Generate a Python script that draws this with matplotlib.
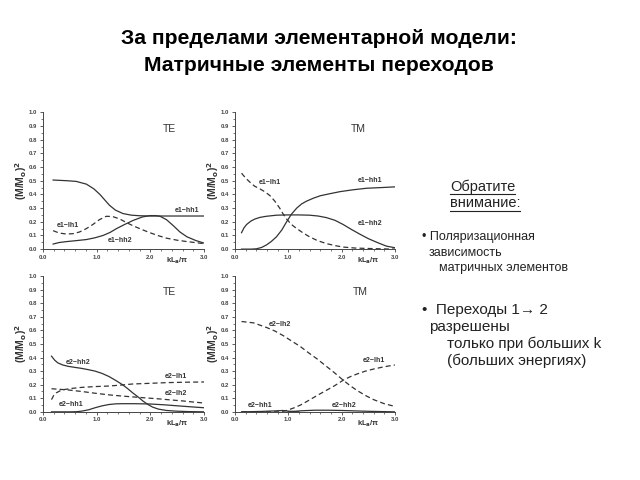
import matplotlib
matplotlib.use("Agg")
import matplotlib.pyplot as plt
from matplotlib.ticker import MultipleLocator, FormatStrFormatter

plt.rcParams['font.family'] = ['Liberation Sans', 'DejaVu Sans']

# --- data ---
# top-left, TE, e1 transitions
tl_hh1_x = [0.19, 0.45, 0.62, 0.81, 0.95, 1.06, 1.15, 1.24, 1.35, 1.49, 1.65, 1.8, 2.0, 2.5, 3.0]
tl_hh1_y = [0.505, 0.50, 0.495, 0.475, 0.44, 0.40, 0.36, 0.32, 0.285, 0.26, 0.248, 0.244, 0.242, 0.242, 0.242]
tl_hh2_x = [0.19, 0.3, 0.44, 0.62, 0.81, 0.97, 1.12, 1.25, 1.37, 1.52, 1.68, 1.85, 1.99, 2.1, 2.18, 2.3, 2.43, 2.55, 2.68, 2.85, 2.99]
tl_hh2_y = [0.037, 0.048, 0.055, 0.062, 0.07, 0.083, 0.10, 0.122, 0.15, 0.18, 0.21, 0.235, 0.245, 0.245, 0.24, 0.215, 0.17, 0.125, 0.09, 0.062, 0.045]
tl_lh1_x = [0.19, 0.3, 0.44, 0.56, 0.68, 0.8, 0.93, 1.05, 1.18, 1.3, 1.43, 1.55, 1.68, 1.85, 1.99, 2.15, 2.3, 2.5, 2.68, 2.85, 2.99]
tl_lh1_y = [0.135, 0.118, 0.11, 0.113, 0.125, 0.148, 0.18, 0.215, 0.24, 0.238, 0.22, 0.195, 0.17, 0.142, 0.12, 0.098, 0.08, 0.065, 0.055, 0.047, 0.04]

# top-right, TM, e1 transitions
tr_lh1_x = [0.125, 0.2, 0.28, 0.37, 0.47, 0.56, 0.66, 0.75, 0.84, 0.9, 0.97, 1.06, 1.16, 1.28, 1.4, 1.55, 1.72, 1.9, 2.03, 2.25, 2.47, 2.75, 3.0]
tr_lh1_y = [0.555, 0.52, 0.49, 0.46, 0.44, 0.42, 0.39, 0.35, 0.30, 0.26, 0.22, 0.18, 0.15, 0.118, 0.09, 0.062, 0.04, 0.024, 0.015, 0.008, 0.005, 0.002, 0.0]
tr_hh1_x = [0.125, 0.3, 0.4, 0.5, 0.59, 0.68, 0.78, 0.88, 0.97, 1.06, 1.16, 1.25, 1.34, 1.47, 1.6, 1.78, 1.97, 2.2, 2.47, 2.75, 3.0]
tr_hh1_y = [0.0, 0.0, 0.002, 0.012, 0.03, 0.055, 0.09, 0.14, 0.20, 0.255, 0.30, 0.33, 0.35, 0.372, 0.39, 0.405, 0.42, 0.433, 0.445, 0.45, 0.455]
tr_hh2_x = [0.125, 0.17, 0.22, 0.3, 0.375, 0.47, 0.59, 0.78, 0.97, 1.2, 1.4, 1.56, 1.72, 1.88, 2.03, 2.18, 2.34, 2.5, 2.66, 2.84, 3.0]
tr_hh2_y = [0.12, 0.155, 0.18, 0.205, 0.22, 0.232, 0.24, 0.248, 0.25, 0.25, 0.248, 0.242, 0.23, 0.21, 0.18, 0.145, 0.11, 0.077, 0.05, 0.022, 0.01]

# bottom-left, TE, e2 transitions
bl_hh2_x = [0.16, 0.22, 0.28, 0.37, 0.47, 0.6, 0.72, 0.85, 0.97, 1.1, 1.23, 1.36, 1.48, 1.58, 1.67, 1.77, 1.86, 1.95, 2.04, 2.15, 2.3, 2.48, 2.7, 3.0]
bl_hh2_y = [0.41, 0.38, 0.36, 0.345, 0.335, 0.327, 0.32, 0.31, 0.30, 0.283, 0.26, 0.23, 0.20, 0.17, 0.14, 0.11, 0.08, 0.055, 0.035, 0.02, 0.01, 0.005, 0.002, 0.0]
bl_hh1_x = [0.16, 0.5, 0.62, 0.72, 0.85, 0.97, 1.1, 1.23, 1.36, 1.48, 1.7, 1.98, 2.25, 2.48, 2.75, 3.0]
bl_hh1_y = [0.0, 0.0, 0.001, 0.005, 0.015, 0.03, 0.044, 0.054, 0.059, 0.06, 0.06, 0.058, 0.052, 0.045, 0.037, 0.03]
bl_lh1_x = [0.16, 0.2, 0.25, 0.32, 0.41, 0.55, 0.72, 0.97, 1.23, 1.45, 1.67, 2.0, 2.3, 2.65, 3.0]
bl_lh1_y = [0.09, 0.12, 0.14, 0.155, 0.165, 0.173, 0.18, 0.186, 0.19, 0.197, 0.205, 0.21, 0.215, 0.218, 0.22]
bl_lh2_x = [0.16, 0.45, 0.72, 0.97, 1.23, 1.45, 1.67, 1.9, 2.17, 2.4, 2.61, 2.8, 3.0]
bl_lh2_y = [0.17, 0.162, 0.15, 0.137, 0.125, 0.117, 0.11, 0.103, 0.095, 0.087, 0.08, 0.072, 0.065]

# bottom-right, TM, e2 transitions
br_lh2_x = [0.125, 0.35, 0.6, 0.75, 0.91, 1.07, 1.23, 1.38, 1.54, 1.7, 1.86, 2.04, 2.17, 2.3, 2.45, 2.6, 2.8, 3.0]
br_lh2_y = [0.665, 0.655, 0.62, 0.595, 0.56, 0.52, 0.48, 0.435, 0.39, 0.34, 0.29, 0.23, 0.19, 0.155, 0.12, 0.09, 0.06, 0.04]
br_lh1_x = [0.125, 0.85, 0.97, 1.1, 1.23, 1.38, 1.54, 1.7, 1.86, 2.04, 2.17, 2.3, 2.45, 2.6, 2.8, 3.0]
br_lh1_y = [0.0, 0.0, 0.01, 0.028, 0.05, 0.083, 0.12, 0.155, 0.19, 0.235, 0.26, 0.28, 0.3, 0.315, 0.332, 0.345]
br_hh1_x = [0.125, 0.5, 0.75, 0.9, 1.0, 1.2]
br_hh1_y = [0.0, 0.003, 0.007, 0.01, 0.005, 0.0]
br_hh2_x = [1.0, 1.25, 1.5, 1.75, 2.0, 2.5, 3.0]
br_hh2_y = [0.0, 0.008, 0.012, 0.012, 0.01, 0.004, 0.0]

panels = [
    # (rect, mode, mode pos, curves, labels)
    ([0.067, 0.481, 0.252, 0.285], 'TE', (2.36, 0.88),
     [(tl_hh1_x, tl_hh1_y, '-'), (tl_hh2_x, tl_hh2_y, '-'), (tl_lh1_x, tl_lh1_y, '--')],
     [('e1\u2212hh1', 2.68, 0.285), ('e1\u2212lh1', 0.47, 0.175), ('e1\u2212hh2', 1.43, 0.066)]),
    ([0.367, 0.481, 0.25, 0.285], 'TM', (2.31, 0.88),
     [(tr_lh1_x, tr_lh1_y, '--'), (tr_hh1_x, tr_hh1_y, '-'), (tr_hh2_x, tr_hh2_y, '-')],
     [('e1\u2212lh1', 0.66, 0.49), ('e1\u2212hh1', 2.53, 0.5), ('e1\u2212hh2', 2.53, 0.19)]),
    ([0.067, 0.142, 0.252, 0.283], 'TE', (2.36, 0.88),
     [(bl_hh2_x, bl_hh2_y, '-'), (bl_hh1_x, bl_hh1_y, '-'), (bl_lh1_x, bl_lh1_y, '--'), (bl_lh2_x, bl_lh2_y, '--')],
     [('e2\u2212hh2', 0.66, 0.36), ('e2\u2212lh1', 2.48, 0.26), ('e2\u2212lh2', 2.48, 0.135), ('e2\u2212hh1', 0.53, 0.055)]),
    ([0.367, 0.142, 0.25, 0.283], 'TM', (2.36, 0.88),
     [(br_lh2_x, br_lh2_y, '--'), (br_lh1_x, br_lh1_y, '--'), (br_hh1_x, br_hh1_y, '-'), (br_hh2_x, br_hh2_y, '-')],
     [('e2\u2212lh2', 0.85, 0.64), ('e2\u2212lh1', 2.6, 0.375), ('e2\u2212hh1', 0.47, 0.045), ('e2\u2212hh2', 2.04, 0.045)]),
]

fig = plt.figure(figsize=(6.4, 4.8), dpi=100)

for rect, mode, mpos, curves, labels in panels:
    ax = fig.add_axes(rect)
    for xs, ys, ls in curves:
        ax.plot(xs, ys, color='#333333', lw=0.9, ls=ls, dashes=(4, 2.5) if ls == '--' else (None, None))
    ax.set_xlim(0, 3)
    ax.set_ylim(0, 1)
    for s in ['top', 'right']:
        ax.spines[s].set_visible(False)
    for s in ['left', 'bottom']:
        ax.spines[s].set_linewidth(0.7)
        ax.spines[s].set_color('#444444')
    ax.xaxis.set_major_locator(MultipleLocator(1.0))
    ax.xaxis.set_minor_locator(MultipleLocator(0.2))
    ax.yaxis.set_major_locator(MultipleLocator(0.1))
    ax.yaxis.set_minor_locator(MultipleLocator(0.05))
    ax.xaxis.set_major_formatter(FormatStrFormatter('%.1f'))
    ax.yaxis.set_major_formatter(FormatStrFormatter('%.1f'))
    ax.tick_params(which='major', length=2.5, width=0.6, labelsize=4.3, pad=1.5, colors='#444444')
    ax.tick_params(which='minor', length=1.5, width=0.5, colors='#444444')
    for t in ax.get_xticklabels() + ax.get_yticklabels():
        t.set_fontweight('bold')
    ax.set_ylabel('(M/M$_\\mathbf{o}$)$^\\mathbf{2}$', fontsize=7.5, fontweight='bold', labelpad=0, color='#333333')
    ax.text(2.5, -0.05, 'kL$_\\mathbf{a}$/\u03c0', fontsize=5.5, fontweight='bold', ha='center', va='top', color='#333333')
    ax.text(mpos[0], mpos[1], mode, fontsize=7.5, ha='center', va='center', color='#333333')
    for txt, x, y in labels:
        ax.text(x, y, txt, fontsize=5, fontweight='bold', ha='center', va='center', color='#333333')

fig.text(0.498, 0.919, 'За пределами элементарной модели:', ha='center', va='center',
         fontsize=15.2, fontweight='bold')
fig.text(0.498, 0.863, 'Матричные элементы переходов', ha='center', va='center',
         fontsize=15.2, fontweight='bold')

# note block on the right
t1 = fig.text(0.703, 0.611, 'Обратите', fontsize=10.5, color='#222222', va='center')
t2 = fig.text(0.703, 0.577, 'внимание:', fontsize=10.5, color='#222222', va='center')
fig.canvas.draw()
r = fig.canvas.get_renderer()
for t in (t1, t2):
    bb = t.get_window_extent(renderer=r).transformed(fig.transFigure.inverted())
    fig.add_artist(plt.Line2D([bb.x0, bb.x1], [bb.y0 - 0.001, bb.y0 - 0.001], color='#222222', lw=0.8,
                              transform=fig.transFigure))

small = [('\u2022 Поляризационная', 0.659, 0.506),
         ('зависимость', 0.670, 0.473),
         ('матричных элементов', 0.686, 0.442)]
for txt, x, y in small:
    fig.text(x, y, txt, fontsize=9, color='#222222', va='center')

big = [('\u2022  Переходы 1\u2192 2', 0.659, 0.354),
       ('разрешены', 0.670, 0.319),
       ('только при больших k', 0.698, 0.283),
       ('(больших энергиях)', 0.698, 0.248)]
for txt, x, y in big:
    fig.text(x, y, txt, fontsize=11, color='#222222', va='center')

fig.savefig('out.png', dpi=100)
